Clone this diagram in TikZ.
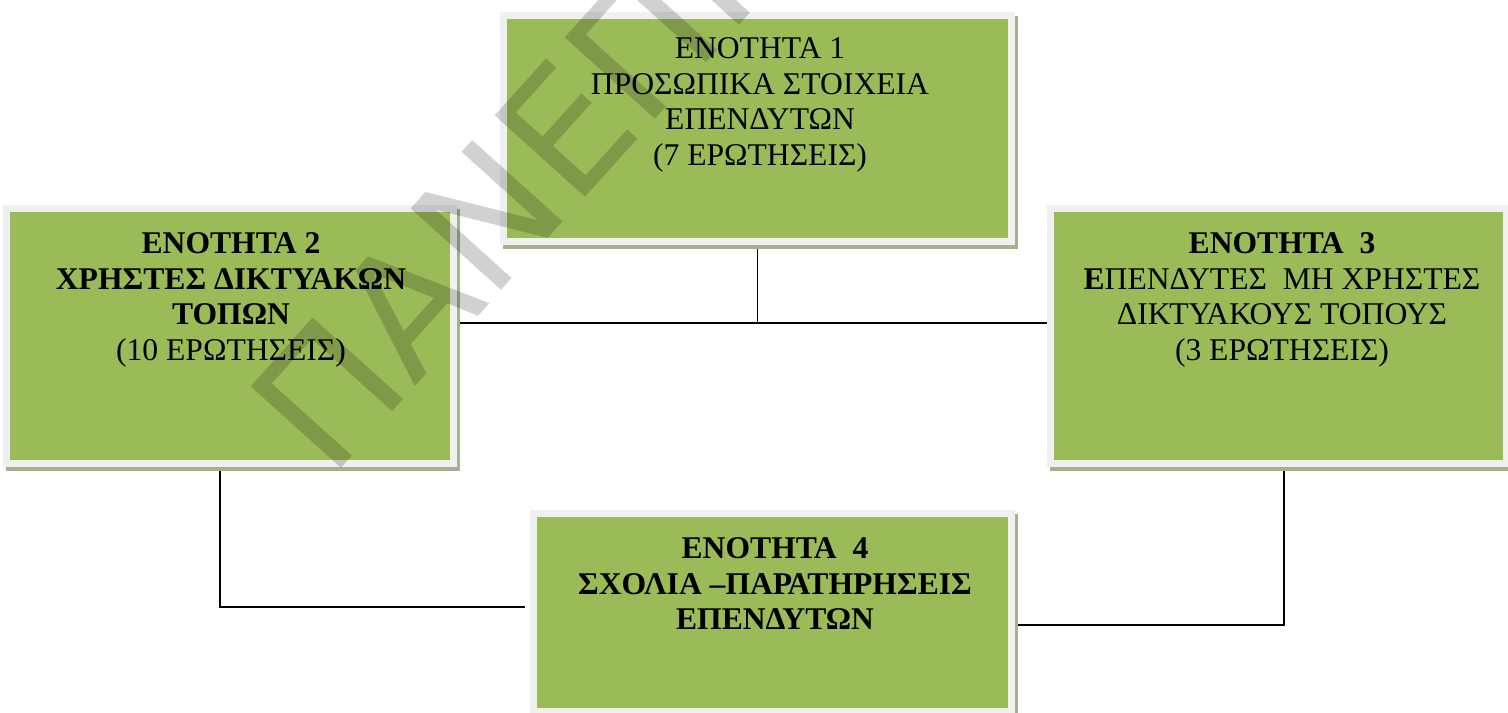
\documentclass[tikz,border=0pt]{standalone}
\usepackage{fontspec}
\setmainfont{Liberation Serif}
\newfontfamily\wmfont{DejaVu Sans}
\usetikzlibrary{positioning,calc}

\definecolor{boxgreen}{RGB}{155,187,89}
\definecolor{framegray}{RGB}{240,240,240}
\definecolor{shadowgreen}{RGB}{165,176,142}

\pgfdeclarelayer{bg}
\pgfsetlayers{bg,main}

\tikzset{
  unitbox/.style={rectangle, fill=boxgreen, draw=framegray, line width=4pt,
    preaction={fill=shadowgreen, draw=shadowgreen, line width=4pt,
      transform canvas={shift={(0.06cm,-0.08cm)}}}},
  unittext/.style={align=center, anchor=north, inner sep=0pt,
    font=\fontsize{18}{20.4}\selectfont},
  link/.style={draw=black, line width=1.1pt},
  watermark/.style={font=\wmfont\fontsize{95}{95}\selectfont, text=black,
    text opacity=0.18, inner sep=0pt},
}

\begin{document}
\begin{tikzpicture}[x=0.02cm, y=-0.02cm]
    \useasboundingbox (0,0) rectangle (1508,713);

    % boxes
    \node[unitbox, minimum width=10.16cm, minimum height=4.52cm] (b1) at (757.5,128.5) {};
    \node[unitbox, minimum width=8.94cm, minimum height=5.10cm] (b2) at (230,336) {};
    \node[unitbox, minimum width=9.12cm, minimum height=5.10cm] (b3) at (1278.5,336) {};
    \node[unitbox, minimum width=9.56cm, minimum height=3.97cm] (b4) at (772.5,612.75) {};

    % texts
    \node[unittext] (t1) at (760,37) {ΕΝΟΤΗΤΑ 1\\ΠΡΟΣΩΠΙΚΑ ΣΤΟΙΧΕΙΑ\\ΕΠΕΝΔΥΤΩΝ\\(7 ΕΡΩΤΗΣΕΙΣ)};
    \node[unittext] (t2) at (231,232) {\textbf{ΕΝΟΤΗΤΑ 2}\\\textbf{ΧΡΗΣΤΕΣ ΔΙΚΤΥΑΚΩΝ}\\\textbf{ΤΟΠΩΝ}\\(10 ΕΡΩΤΗΣΕΙΣ)};
    \node[unittext] (t3) at (1282,232) {\textbf{ΕΝΟΤΗΤΑ~ 3}\\\textbf{Ε}ΠΕΝΔΥΤΕΣ~ ΜΗ ΧΡΗΣΤΕΣ\\ΔΙΚΤΥΑΚΟΥΣ ΤΟΠΟΥΣ\\(3 ΕΡΩΤΗΣΕΙΣ)};
    \node[unittext] (t4) at (775,537) {\textbf{ΕΝΟΤΗΤΑ~ 4}\\\textbf{ΣΧΟΛΙΑ –ΠΑΡΑΤΗΡΗΣΕΙΣ}\\\textbf{ΕΠΕΝΔΥΤΩΝ}};

    % connectors
    \coordinate (hub) at (757.5,323);
    \coordinate (b2turn) at (220,607);
    \coordinate (b3turn) at (1284,625);
    \begin{pgfonlayer}{bg}
        \draw[link] (b1.south) -- (hub);
        \draw[link] (b2.east |- hub) -- (b3.west |- hub);
        \draw[link, shorten >=0.1cm] (b2.south -| b2turn) -- (b2turn) -- (b4.west |- b2turn);
        \draw[link] (b3.south -| b3turn) -- (b3turn) -- (b4.east |- b3turn);
    \end{pgfonlayer}

    % watermark
    \begin{scope}
        \clip (0,0) rectangle (1508,713);
        \node[watermark, rotate=48, anchor=west] (wm) at (285,440) {ΠΑΝΕΠΙΣ};
    \end{scope}
\end{tikzpicture}
\end{document}
